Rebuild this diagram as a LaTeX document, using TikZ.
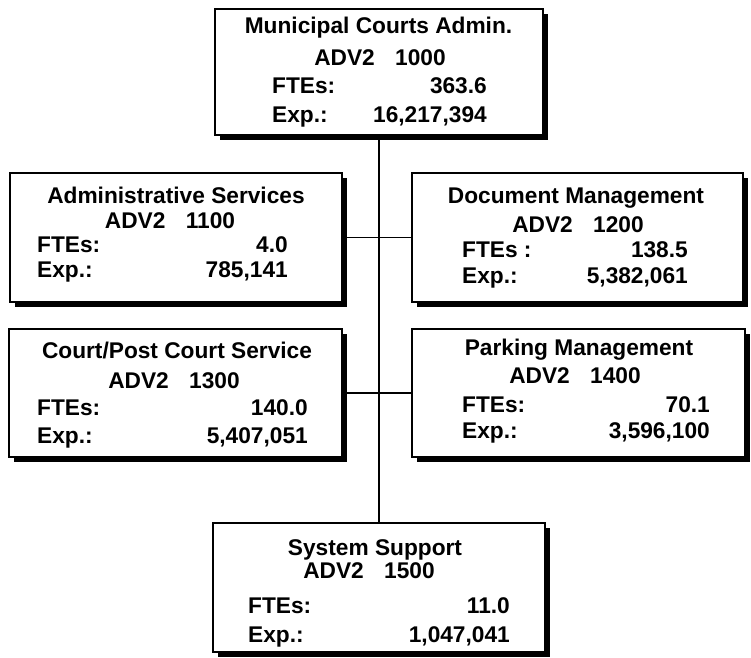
\documentclass[tikz,border=0pt]{standalone}
\usepackage{fontspec}
\setmainfont{Liberation Sans}
\usetikzlibrary{shadows}
\begin{document}
\begin{tikzpicture}[x=1pt,y=-1pt,
  orgbox/.style={draw=black, line width=1.5pt, fill=white, rectangle, inner sep=0pt,
    drop shadow={shadow xshift=5pt, shadow yshift=-5pt, fill=black, opacity=1}},
  txt/.style={inner sep=0pt, font=\fontsize{22.7}{27}\selectfont\bfseries},
  ctr/.style={txt, anchor=base},
  lft/.style={txt, anchor=base west},
  rgt/.style={txt, anchor=base east},
  link/.style={draw=black, line width=1.3pt}]
\useasboundingbox (0,0) rectangle (751,657);
\fill[white] (0,0) rectangle (751,657);

% boxes
\node[orgbox, minimum width=328pt, minimum height=126pt] (top) at (379,72) {};
\node[orgbox, minimum width=332pt, minimum height=129pt] (adm) at (176,237.5) {};
\node[orgbox, minimum width=331pt, minimum height=129pt] (doc) at (577.5,237.5) {};
\node[orgbox, minimum width=333pt, minimum height=128pt] (crt) at (175.5,393) {};
\node[orgbox, minimum width=333pt, minimum height=128pt] (prk) at (578.5,393) {};
\node[orgbox, minimum width=332pt, minimum height=129pt] (sys) at (379,587.5) {};

% connectors
\draw[link] (top.south) -- (sys.north);
\draw[link] (adm.east) -- (doc.west);
\draw[link] (crt.east) -- (prk.west);

% top
\node[ctr] (t1) at (378.5,33) {Municipal Courts Admin.};
\node[ctr] (t2) at (380,65) {ADV2\hspace{0.9em}1000};
\node[lft] (t3) at (272,93) {FTEs:};
\node[rgt] (t4) at (487,93) {363.6};
\node[lft] (t5) at (272,122) {Exp.:};
\node[rgt] (t6) at (487,122) {16,217,394};

% admin services
\node[ctr] (a1) at (176,203) {Administrative Services};
\node[ctr] (a2) at (170,228) {ADV2\hspace{0.9em}1100};
\node[lft] (a3) at (37,252) {FTEs:};
\node[rgt] (a4) at (288,252) {4.0};
\node[lft] (a5) at (37,277) {Exp.:};
\node[rgt] (a6) at (288,277) {785,141};

% document management
\node[ctr] (d1) at (576,203) {Document Management};
\node[ctr] (d2) at (578,232) {ADV2\hspace{0.9em}1200};
\node[lft] (d3) at (462,257) {FTEs :};
\node[rgt] (d4) at (688,257) {138.5};
\node[lft] (d5) at (462,283) {Exp.:};
\node[rgt] (d6) at (688,283) {5,382,061};

% court/post court
\node[ctr] (c1) at (177,358) {Court/Post Court Service};
\node[ctr] (c2) at (174,388) {ADV2\hspace{0.9em}1300};
\node[lft] (c3) at (37,415) {FTEs:};
\node[rgt] (c4) at (308,415) {140.0};
\node[lft] (c5) at (37,443) {Exp.:};
\node[rgt] (c6) at (308,443) {5,407,051};

% parking
\node[ctr] (p1) at (579,355) {Parking Management};
\node[ctr] (p2) at (575,383) {ADV2\hspace{0.9em}1400};
\node[lft] (p3) at (462,412) {FTEs:};
\node[rgt] (p4) at (710,412) {70.1};
\node[lft] (p5) at (462,438) {Exp.:};
\node[rgt] (p6) at (710,438) {3,596,100};

% system support
\node[ctr] (s1) at (375,555) {System Support};
\node[ctr] (s2) at (369,578) {ADV2\hspace{0.9em}1500};
\node[lft] (s3) at (248,613) {FTEs:};
\node[rgt] (s4) at (510,613) {11.0};
\node[lft] (s5) at (248,642) {Exp.:};
\node[rgt] (s6) at (510,642) {1,047,041};
\end{tikzpicture}
\end{document}
